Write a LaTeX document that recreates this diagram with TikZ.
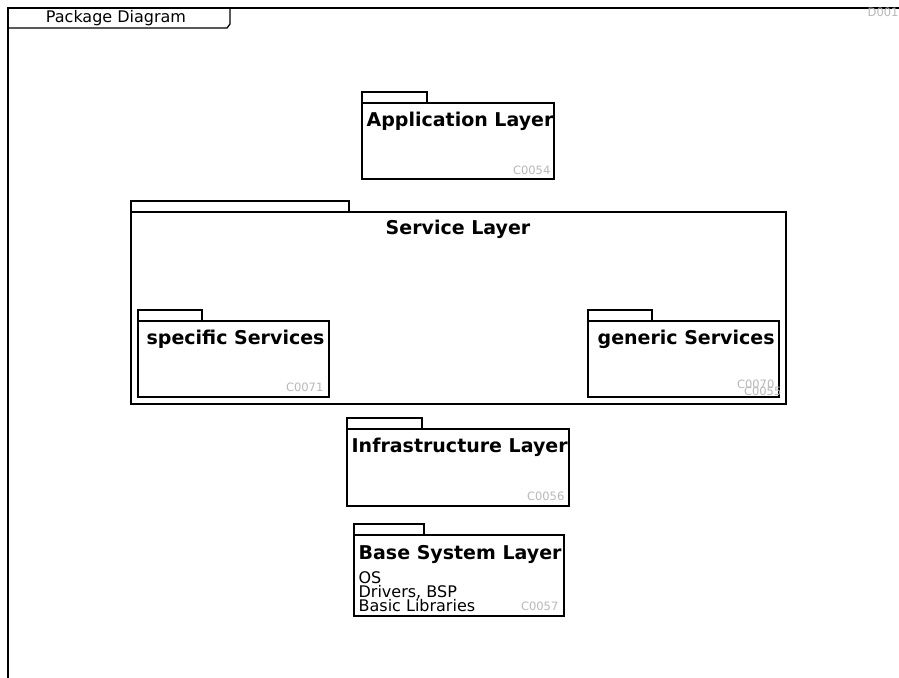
\documentclass[tikz,border=0pt]{standalone}
\usepackage{fontspec}
\setmainfont{DejaVu Sans}
\begin{document}
\begin{tikzpicture}[x=1pt,y=-1pt,
  line width=1.3pt,
  pkg/.style={draw=black,fill=white},
  ttl/.style={font=\fontsize{19}{20}\selectfont\bfseries,inner sep=0pt,anchor=base west},
  idtxt/.style={font=\fontsize{11.5}{12}\selectfont,text=black!28,inner sep=0pt,anchor=base east},
  plain/.style={font=\fontsize{16}{14.5}\selectfont,inner sep=0pt}]
\useasboundingbox (0,0) rectangle (899,677);
% frame
\draw (8,690) -- (8,8) -- (905,8);
\draw (8,28) -- (227,28) -- (230,24) -- (230,8);
\node[plain,anchor=base] (hdr) at (116,22.5) {Package Diagram};
\node[idtxt,anchor=base west] (did) at (867,17) {D0010};
% Application Layer
\draw[pkg] (362,92) rectangle (427,103);
\draw[pkg] (362,103) rectangle (554,179);
\node[ttl] (app) at (366,126) {Application Layer};
\node[idtxt] (appid) at (551,174) {C0054};
% Service Layer
\draw[pkg] (131,201) rectangle (349,212);
\draw[pkg] (131,212) rectangle (786,404);
\node[ttl,anchor=base] (svc) at (458,234) {Service Layer};
% specific Services
\draw[pkg] (138,310) rectangle (202,321);
\draw[pkg] (138,321) rectangle (329,397);
\node[ttl] (spec) at (146,344) {specific Services};
\node[idtxt] (specid) at (324,391) {C0071};
% generic Services
\draw[pkg] (588,310) rectangle (652,321);
\draw[pkg] (588,321) rectangle (779,397);
\node[ttl] (gen) at (597,344) {generic Services};
\node[idtxt] (genid) at (775,388) {C0070};
\node[idtxt] (svcid) at (782,395) {C0055};
% Infrastructure Layer
\draw[pkg] (347,418) rectangle (422,429);
\draw[pkg] (347,429) rectangle (569,506);
\node[ttl] (inf) at (351,452) {Infrastructure Layer};
\node[idtxt] (infid) at (565,500) {C0056};
% Base System Layer
\draw[pkg] (354,524) rectangle (424,535);
\draw[pkg] (354,535) rectangle (564,616);
\node[ttl] (base) at (358,559) {Base System Layer};
\node[plain,anchor=base west] (os) at (358,583) {OS};
\node[plain,anchor=base west] (drv) at (358,597) {Drivers, BSP};
\node[plain,anchor=base west] (lib) at (358,611) {Basic Libraries};
\node[idtxt] (baseid) at (559,610) {C0057};
\end{tikzpicture}
\end{document}
